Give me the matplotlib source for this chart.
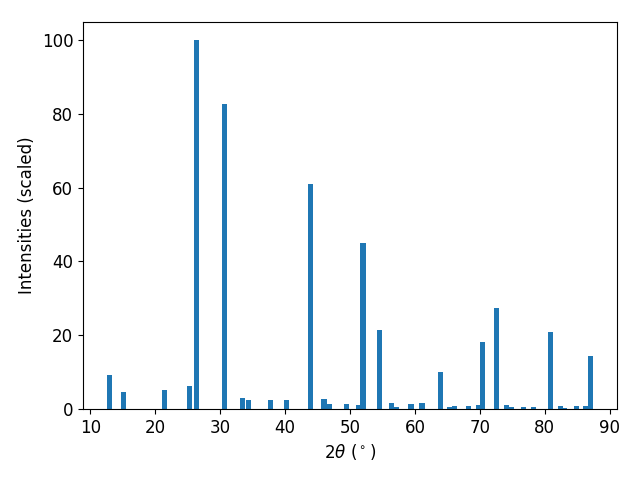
import matplotlib
matplotlib.use('Agg')
import matplotlib.pyplot as plt

# peak positions (2theta, degrees) and scaled intensities
two_theta = [13.0, 15.1, 21.4, 25.3, 26.4, 30.7, 33.4, 34.3, 37.7, 40.2,
             43.9, 46.0, 46.8, 49.4, 51.3, 52.0, 54.5, 56.4, 57.2, 59.4,
             61.1, 63.9, 65.4, 66.1, 68.3, 69.8, 70.4, 72.6, 74.1, 74.8,
             76.7, 78.3, 80.9, 82.4, 83.0, 84.9, 86.3, 87.0]
intensities = [9.2, 4.6, 5.1, 6.2, 100.0, 82.7, 3.0, 2.4, 2.4, 2.4,
               61.0, 2.7, 1.4, 1.4, 1.1, 45.0, 21.5, 1.6, 0.5, 1.4,
               1.6, 10.0, 0.5, 0.8, 0.8, 1.1, 18.2, 27.5, 1.1, 0.5,
               0.5, 0.5, 20.9, 0.8, 0.3, 0.8, 0.8, 14.4]

plt.rcParams['font.size'] = 12

fig = plt.figure(figsize=(6.4, 4.8), dpi=100)
plt.bar(two_theta, intensities, width=0.8)
plt.xlabel(r'$2\theta$ ($^\circ$)')
plt.ylabel('Intensities (scaled)')
plt.subplots_adjust(left=83/640, right=617/640, top=1 - 21.5/480, bottom=1 - 409/480)
plt.savefig('out.png')
